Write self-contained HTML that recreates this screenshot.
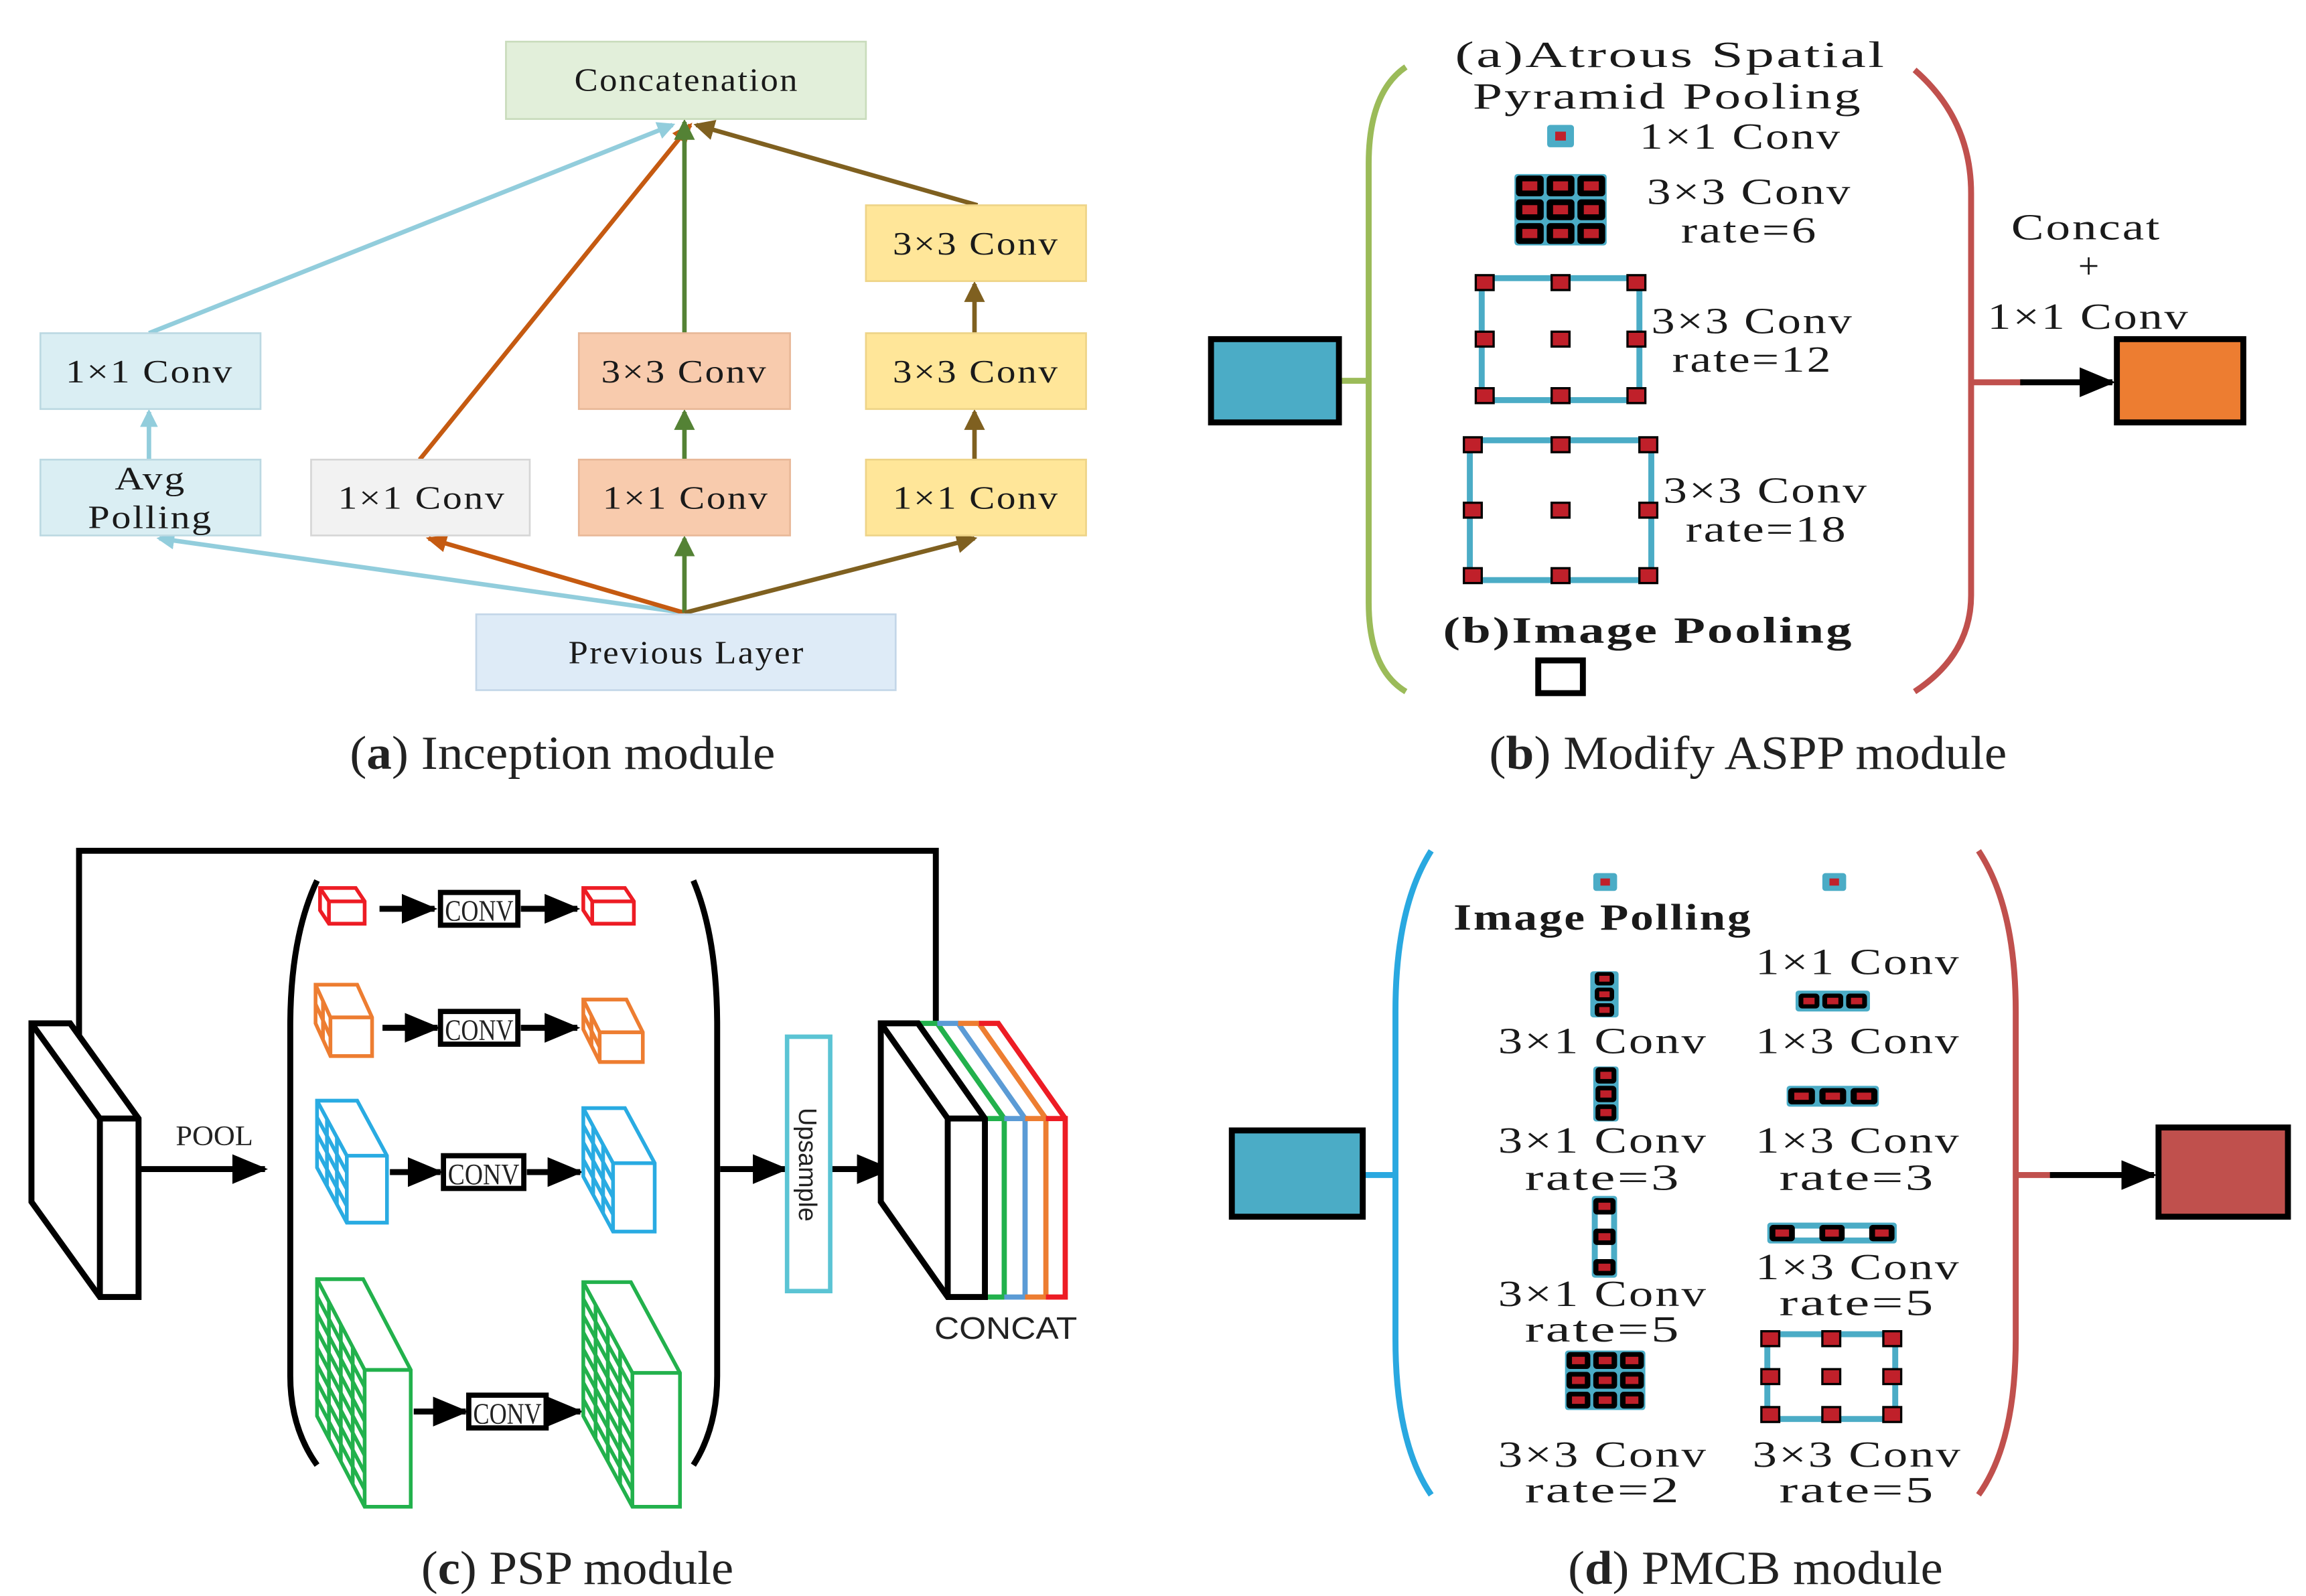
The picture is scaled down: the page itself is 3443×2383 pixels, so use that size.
<!DOCTYPE html>
<html><head><meta charset="utf-8"><style>
html,body{margin:0;padding:0;background:#fff;}
svg{display:block;}
.s{font-family:"Liberation Serif",serif;fill:#222;}
.w{font-family:"Liberation Serif",serif;fill:#1a1a1a;letter-spacing:1px;}
</style></head><body>
<svg id="m" width="3443" height="2383" viewBox="0 0 1550 1073" xmlns="http://www.w3.org/2000/svg">
<defs>
<marker id="mLb" markerWidth="12" markerHeight="12" refX="10" refY="6" orient="auto" markerUnits="userSpaceOnUse"><path d="M0,0 L12,6 L0,12z" fill="#92cddc"/></marker>
<marker id="mOr" markerWidth="14" markerHeight="12" refX="12" refY="6" orient="auto" markerUnits="userSpaceOnUse"><path d="M0,0 L14,6 L0,12z" fill="#c55a11"/></marker>
<marker id="mGr" markerWidth="14" markerHeight="14" refX="12" refY="7" orient="auto" markerUnits="userSpaceOnUse"><path d="M0,0 L14,7 L0,14z" fill="#548235"/></marker>
<marker id="mBr" markerWidth="14" markerHeight="14" refX="12" refY="7" orient="auto" markerUnits="userSpaceOnUse"><path d="M0,0 L14,7 L0,14z" fill="#7f6020"/></marker>
<marker id="mBk" markerWidth="24" markerHeight="20" refX="22" refY="10" orient="auto" markerUnits="userSpaceOnUse"><path d="M0,0 L24,10 L0,20z" fill="#000"/></marker>
</defs>

<!-- ===== Panel (a) ===== -->
<g stroke-width="3" fill="none">
<line x1="460" y1="412" x2="107" y2="362" stroke="#92cddc" marker-end="url(#mLb)"/>
<line x1="460" y1="412" x2="288" y2="362" stroke="#c55a11" marker-end="url(#mOr)"/>
<line x1="460" y1="412" x2="460" y2="362" stroke="#548235" marker-end="url(#mGr)"/>
<line x1="460" y1="412" x2="655" y2="362" stroke="#7f6020" marker-end="url(#mBr)"/>
<line x1="100" y1="224" x2="452" y2="84" stroke="#92cddc" marker-end="url(#mLb)"/>
<line x1="282" y1="309" x2="464" y2="84" stroke="#c55a11" marker-end="url(#mOr)"/>
<line x1="460" y1="224" x2="460" y2="82" stroke="#548235" marker-end="url(#mGr)"/>
<line x1="657" y1="138" x2="468" y2="84" stroke="#7f6020" marker-end="url(#mBr)"/>
<line x1="100" y1="309" x2="100" y2="277" stroke="#92cddc" marker-end="url(#mLb)"/>
<line x1="460" y1="309" x2="460" y2="277" stroke="#548235" marker-end="url(#mGr)"/>
<line x1="655" y1="309" x2="655" y2="277" stroke="#7f6020" marker-end="url(#mBr)"/>
<line x1="655" y1="224" x2="655" y2="191" stroke="#7f6020" marker-end="url(#mBr)"/>
</g>
<g stroke-width="1.2">
<rect x="340" y="28" width="242" height="52" fill="#e2efda" stroke="#c9dcbc"/>
<rect x="27" y="224" width="148" height="51" fill="#daeef3" stroke="#bcd9e2"/>
<rect x="27" y="309" width="148" height="51" fill="#daeef3" stroke="#bcd9e2"/>
<rect x="209" y="309" width="147" height="51" fill="#f2f2f2" stroke="#d6d6d6"/>
<rect x="389" y="224" width="142" height="51" fill="#f8cbad" stroke="#e8b898"/>
<rect x="389" y="309" width="142" height="51" fill="#f8cbad" stroke="#e8b898"/>
<rect x="582" y="138" width="148" height="51" fill="#ffe699" stroke="#eed488"/>
<rect x="582" y="224" width="148" height="51" fill="#ffe699" stroke="#eed488"/>
<rect x="582" y="309" width="148" height="51" fill="#ffe699" stroke="#eed488"/>
<rect x="320" y="413" width="282" height="51" fill="#deebf7" stroke="#c3d6e8"/>
</g>
<g class="w" font-size="22">
<text x="386" y="61" textLength="151" lengthAdjust="spacingAndGlyphs">Concatenation</text>
<text x="44" y="257" textLength="113" lengthAdjust="spacingAndGlyphs">1×1 Conv</text>
<text x="77" y="329" textLength="48" lengthAdjust="spacingAndGlyphs">Avg</text>
<text x="59" y="355" textLength="84" lengthAdjust="spacingAndGlyphs">Polling</text>
<text x="227" y="342" textLength="113" lengthAdjust="spacingAndGlyphs">1×1 Conv</text>
<text x="404" y="257" textLength="112" lengthAdjust="spacingAndGlyphs">3×3 Conv</text>
<text x="405" y="342" textLength="112" lengthAdjust="spacingAndGlyphs">1×1 Conv</text>
<text x="600" y="171" textLength="112" lengthAdjust="spacingAndGlyphs">3×3 Conv</text>
<text x="600" y="257" textLength="112" lengthAdjust="spacingAndGlyphs">3×3 Conv</text>
<text x="600" y="342" textLength="112" lengthAdjust="spacingAndGlyphs">1×1 Conv</text>
<text x="382" y="446" textLength="159" lengthAdjust="spacingAndGlyphs">Previous Layer</text>
</g>
<text class="s" x="235" y="517" font-size="32" textLength="286" lengthAdjust="spacingAndGlyphs">(<tspan font-weight="bold">a</tspan>) Inception module</text>

<!-- ===== Panel (b) ===== -->
<path d="M945,45 Q920,62 920,110 L920,405 Q920,450 945,465" fill="none" stroke="#9bbb59" stroke-width="4"/>
<line x1="902" y1="256" x2="920" y2="256" stroke="#9bbb59" stroke-width="4"/>
<rect x="814" y="228" width="86" height="56" fill="#4bacc6" stroke="#000" stroke-width="4"/>
<path d="M1287,47 Q1325,80 1325,130 L1325,400 Q1325,440 1287,465" fill="none" stroke="#c0504d" stroke-width="4"/>
<line x1="1325" y1="257" x2="1360" y2="257" stroke="#c0504d" stroke-width="4"/>
<line x1="1358" y1="257" x2="1420" y2="257" stroke="#000" stroke-width="4" marker-end="url(#mBk)"/>
<rect x="1423" y="228" width="85" height="56" fill="#ed7d31" stroke="#000" stroke-width="4"/>
<g class="w" font-size="25">
<text x="978" y="45" textLength="290" lengthAdjust="spacingAndGlyphs">(a)Atrous Spatial</text>
<text x="990" y="73" textLength="262" lengthAdjust="spacingAndGlyphs">Pyramid Pooling</text>
<text x="1102" y="100" textLength="136" lengthAdjust="spacingAndGlyphs">1×1 Conv</text>
<text x="1107" y="137" textLength="138" lengthAdjust="spacingAndGlyphs">3×3 Conv</text>
<text x="1130" y="163" textLength="92" lengthAdjust="spacingAndGlyphs">rate=6</text>
<text x="1110" y="224" textLength="136" lengthAdjust="spacingAndGlyphs">3×3 Conv</text>
<text x="1124" y="250" textLength="108" lengthAdjust="spacingAndGlyphs">rate=12</text>
<text x="1118" y="338" textLength="138" lengthAdjust="spacingAndGlyphs">3×3 Conv</text>
<text x="1133" y="364" textLength="109" lengthAdjust="spacingAndGlyphs">rate=18</text>
<text x="970" y="432" font-weight="bold" textLength="276" lengthAdjust="spacingAndGlyphs">(b)Image Pooling</text>
<text x="1352" y="161" textLength="101" lengthAdjust="spacingAndGlyphs">Concat</text>
<text x="1397" y="187">+</text>
<text x="1336" y="221" textLength="136" lengthAdjust="spacingAndGlyphs">1×1 Conv</text>
</g>
<rect x="1034" y="444" width="30" height="22" fill="none" stroke="#000" stroke-width="4"/>
<text class="s" x="1001" y="517" font-size="32" textLength="348" lengthAdjust="spacingAndGlyphs">(<tspan font-weight="bold">b</tspan>) Modify ASPP module</text>

<!-- ===== Panel (c) ===== -->
<polyline points="53,697 53,572 629,572 629,718" fill="none" stroke="#000" stroke-width="4" marker-end="url(#mBk)"/>
<path d="M213,592 Q195,630 195,690 L195,925 Q195,960 213,985" fill="none" stroke="#000" stroke-width="4"/>
<path d="M466,592 Q482,630 482,690 L482,925 Q482,960 466,985" fill="none" stroke="#000" stroke-width="4"/>
<text x="118" y="770" font-family="Liberation Serif,serif" font-size="19" fill="#222" textLength="52" lengthAdjust="spacingAndGlyphs">POOL</text>
<line x1="93" y1="786" x2="178" y2="786" stroke="#000" stroke-width="4" marker-end="url(#mBk)"/>
<line x1="484" y1="786" x2="528" y2="786" stroke="#000" stroke-width="4" marker-end="url(#mBk)"/>
<line x1="558" y1="786" x2="598" y2="786" stroke="#000" stroke-width="4" marker-end="url(#mBk)"/>
<rect x="529" y="697" width="29" height="171" fill="#fff" stroke="#5bc4d4" stroke-width="3"/>
<text transform="translate(537,783) rotate(90)" font-family="Liberation Sans,sans-serif" font-size="17" text-anchor="middle" fill="#222">Upsample</text>
<g stroke="#000" stroke-width="4" marker-end="url(#mBk)">
<line x1="255" y1="611" x2="292" y2="611"/><line x1="350" y1="611" x2="388" y2="611"/>
<line x1="257" y1="691" x2="294" y2="691"/><line x1="350" y1="691" x2="388" y2="691"/>
<line x1="262" y1="788" x2="296" y2="788"/><line x1="354" y1="788" x2="390" y2="788"/>
<line x1="278" y1="949" x2="313" y2="949"/><line x1="368" y1="949" x2="390" y2="949"/>
</g>
<g fill="#fff" stroke="#000" stroke-width="3.5">
<rect x="296" y="600" width="52" height="22"/>
<rect x="296" y="680" width="52" height="22"/>
<rect x="298" y="777" width="54" height="22"/>
<rect x="315" y="938" width="52" height="22"/>
</g>
<g font-family="Liberation Serif,serif" font-size="20" fill="#222" text-anchor="middle">
<text x="322" y="619" textLength="46" lengthAdjust="spacingAndGlyphs">CONV</text>
<text x="322" y="699" textLength="46" lengthAdjust="spacingAndGlyphs">CONV</text>
<text x="325" y="796" textLength="48" lengthAdjust="spacingAndGlyphs">CONV</text>
<text x="341" y="957" textLength="46" lengthAdjust="spacingAndGlyphs">CONV</text>
</g>
<g id="cubes"></g>
<text x="628" y="900" font-family="Liberation Sans,sans-serif" font-size="21" fill="#222" textLength="96" lengthAdjust="spacingAndGlyphs">CONCAT</text>
<text class="s" x="283" y="1065" font-size="32" textLength="210" lengthAdjust="spacingAndGlyphs">(<tspan font-weight="bold">c</tspan>) PSP module</text>

<!-- ===== Panel (d) ===== -->
<path d="M962,572 Q938,610 938,680 L938,900 Q938,970 962,1005" fill="none" stroke="#29a8e0" stroke-width="4"/>
<line x1="916" y1="790" x2="938" y2="790" stroke="#29a8e0" stroke-width="4"/>
<rect x="828" y="760" width="88" height="58" fill="#4bacc6" stroke="#000" stroke-width="4"/>
<path d="M1330,572 Q1355,610 1355,680 L1355,900 Q1355,970 1330,1005" fill="none" stroke="#c0504d" stroke-width="4"/>
<line x1="1355" y1="790" x2="1380" y2="790" stroke="#c0504d" stroke-width="4"/>
<line x1="1378" y1="790" x2="1448" y2="790" stroke="#000" stroke-width="4" marker-end="url(#mBk)"/>
<rect x="1451" y="758" width="87" height="60" fill="#c0504d" stroke="#000" stroke-width="4"/>
<g class="w" font-size="25">
<text x="977" y="625" font-weight="bold" textLength="201" lengthAdjust="spacingAndGlyphs">Image Polling</text>
<text x="1180" y="655" textLength="138" lengthAdjust="spacingAndGlyphs">1×1 Conv</text>
<text x="1007" y="708" textLength="141" lengthAdjust="spacingAndGlyphs">3×1 Conv</text>
<text x="1180" y="708" textLength="138" lengthAdjust="spacingAndGlyphs">1×3 Conv</text>
<text x="1007" y="775" textLength="141" lengthAdjust="spacingAndGlyphs">3×1 Conv</text>
<text x="1025" y="800" textLength="105" lengthAdjust="spacingAndGlyphs">rate=3</text>
<text x="1180" y="775" textLength="138" lengthAdjust="spacingAndGlyphs">1×3 Conv</text>
<text x="1196" y="800" textLength="105" lengthAdjust="spacingAndGlyphs">rate=3</text>
<text x="1007" y="878" textLength="141" lengthAdjust="spacingAndGlyphs">3×1 Conv</text>
<text x="1025" y="902" textLength="105" lengthAdjust="spacingAndGlyphs">rate=5</text>
<text x="1180" y="860" textLength="138" lengthAdjust="spacingAndGlyphs">1×3 Conv</text>
<text x="1196" y="884" textLength="105" lengthAdjust="spacingAndGlyphs">rate=5</text>
<text x="1007" y="986" textLength="141" lengthAdjust="spacingAndGlyphs">3×3 Conv</text>
<text x="1025" y="1010" textLength="105" lengthAdjust="spacingAndGlyphs">rate=2</text>
<text x="1178" y="986" textLength="141" lengthAdjust="spacingAndGlyphs">3×3 Conv</text>
<text x="1196" y="1010" textLength="105" lengthAdjust="spacingAndGlyphs">rate=5</text>
</g>
<g id="icons"></g>
<text class="s" x="1054" y="1065" font-size="32" textLength="252" lengthAdjust="spacingAndGlyphs">(<tspan font-weight="bold">d</tspan>) PMCB module</text>
</svg>
<script>
var NS="http://www.w3.org/2000/svg";
function el(p,t,a){var e=document.createElementNS(NS,t);for(var k in a)e.setAttribute(k,a[k]);p.appendChild(e);return e;}
var C=document.getElementById("cubes");
function cube(fx,fy,fw,fh,dx,dy,col,cols,rows,sw){
 sw=sw||2.5;
 var g=el(C,"g",{fill:"none",stroke:col,"stroke-width":sw,"stroke-linejoin":"miter"});
 el(g,"polygon",{points:[fx-dx,fy-dy,fx+fw-dx,fy-dy,fx+fw,fy,fx+fw,fy+fh,fx,fy+fh,fx-dx,fy+fh-dy].join(","),fill:"#fff"});
 el(g,"polyline",{points:[fx-dx,fy-dy,fx,fy,fx+fw,fy].join(",")});
 el(g,"line",{x1:fx,y1:fy,x2:fx,y2:fy+fh});
 for(var i=1;i<cols;i++){var x=fx-dx*i/cols,y=fy-dy*i/cols;el(g,"line",{x1:x,y1:y,x2:x,y2:y+fh});}
 for(var j=1;j<rows;j++){var yy=fy+fh*j/rows;el(g,"line",{x1:fx,y1:yy,x2:fx-dx,y2:yy-dy});}
}
cube(221,606,24,15,6,9,"#ed1c24",1,1);
cube(398,606,28,15,6,9,"#ed1c24",1,1);
cube(222,684,28,26,10,22,"#ed7d31",2,2);
cube(403,694,29,20,11,22,"#ed7d31",2,2);
cube(233,777,27,45,20,37,"#29abe2",3,4);
cube(412,782,28,46,20,37,"#29abe2",3,4);
cube(245,921,31,92,32,61,"#22b14c",4,8);
cube(425,923,32,90,33,61,"#22b14c",4,8);
cube(67,752,26,120,46,64,"#000",1,1,4);
(function(){
 var g=el(C,"g",{fill:"none","stroke-width":3.5});
 var xs=[662,675,689,703,716],cs=["#22b14c","#5b9bd5","#ed7d31","#ed1c24"];
 el(g,"polygon",{points:[592,688,671,688,716,752,716,872,637,872,592,808].join(","),fill:"#fff",stroke:"none"});
 for(var i=0;i<4;i++){var c=cs[i],a=xs[i],b=xs[i+1];
  el(g,"polyline",{points:[a,752,b,752,b,872,a,872].join(","),stroke:c});
  el(g,"polyline",{points:[a-45,688,b-45,688,b,752].join(","),stroke:c});}
 var k=el(g,"g",{stroke:"#000","stroke-width":4});
 el(k,"polygon",{points:[592,688,617,688,662,752,662,872,637,872,592,808].join(","),fill:"none"});
 el(k,"polyline",{points:[592,688,637,752,662,752].join(","),fill:"none"});
 el(k,"line",{x1:637,y1:752,x2:637,y2:872});
})();
var I=document.getElementById("icons");
var B="#4bacc6",R="#c0202a";
function cell(cx,cy,w,h){el(I,"rect",{x:cx-w/2,y:cy-h/2,width:w,height:h,rx:2.5,fill:"#000"});el(I,"rect",{x:cx-w*0.27,y:cy-h*0.22,width:w*0.54,height:h*0.44,fill:R});}
function bg(x,y,w,h){el(I,"rect",{x:x,y:y,width:w,height:h,rx:2,fill:B});}
function one(x,y,w,h){bg(x,y,w,h);el(I,"rect",{x:x+w*0.3,y:y+h*0.3,width:w*0.4,height:h*0.4,fill:R});}
function dot(cx,cy){el(I,"rect",{x:cx-6,y:cy-5,width:12,height:10,fill:"#c0202a",stroke:"#000","stroke-width":1.5});}
function dil(x,y,w,h){el(I,"rect",{x:x,y:y,width:w,height:h,fill:"none",stroke:B,"stroke-width":4});
 [x+2,x+w/2,x+w-2].forEach(function(cx){[y+3,y+h/2,y+h-3].forEach(function(cy){dot(cx,cy);});});}
function grid(x,y,w,h){bg(x,y,w,h);var cw=w/3,ch=h/3;for(var i=0;i<3;i++)for(var j=0;j<3;j++)cell(x+cw*(i+0.5),y+ch*(j+0.5),cw-2,ch-2);}
one(1040,84,18,15);
grid(1018,117,62,48);
dil(996,187,106,82);
dil(988,296,122,94);
one(1071,587,16,12);one(1225,587,16,12);
bg(1069,653,19,31);for(var i=0;i<3;i++)cell(1078.5,658+i*10.5,13,9);
bg(1207,666,50,14);for(var i=0;i<3;i++)cell(1216+i*16,673,14,10);
bg(1071,717,17,37);for(var i=0;i<3;i++)cell(1079.5,723+i*12.5,14,11);
bg(1201,730,62,14);for(var i=0;i<3;i++)cell(1211+i*21,737,18,11);
bg(1070,804,17,55);
el(I,"rect",{x:1074,y:816,width:9,height:36,fill:"#fff"});
for(var i=0;i<3;i++)cell(1078.5,811+i*20.5,15,11);
bg(1188,822,87,14);el(I,"rect",{x:1192,y:826,width:79,height:6,fill:"#fff"});
for(var i=0;i<3;i++)cell(1198+i*33.5,829,17,11);
grid(1052,908,54,40);
dil(1188,897,86,57);
</script>
</body></html>
